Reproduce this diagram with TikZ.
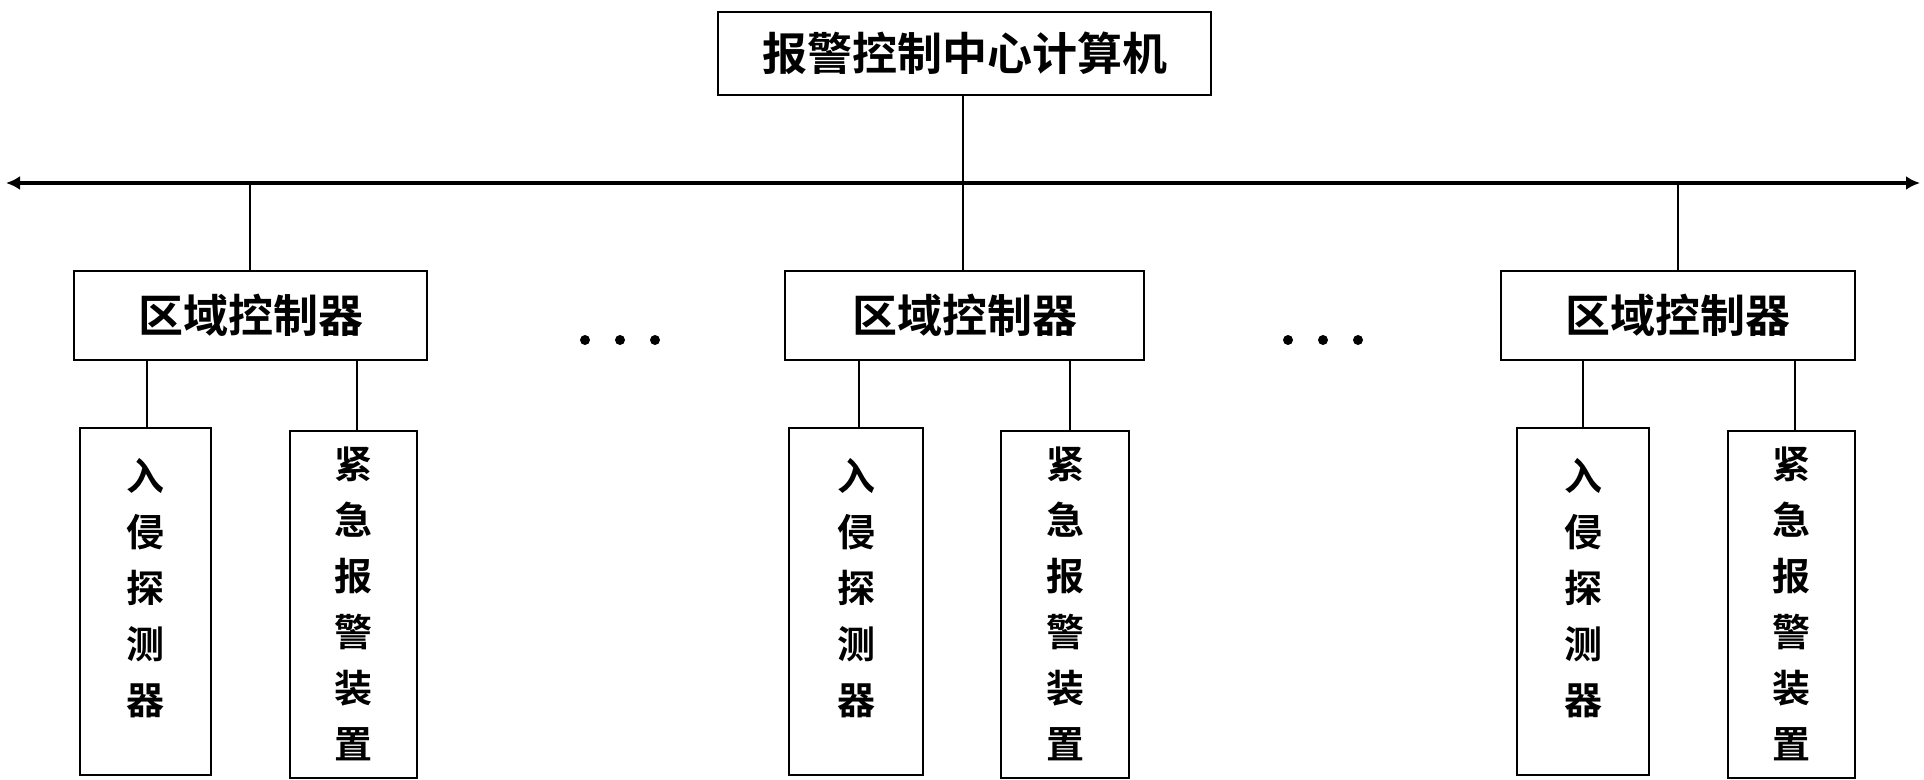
\documentclass[tikz,border=0pt]{standalone}
\usepackage{fontspec}
\newfontfamily\cjk{Noto Sans CJK SC Bold}
\usetikzlibrary{arrows.meta}
\begin{document}
\begin{tikzpicture}[x=1pt,y=-1pt,
  box/.style={draw,line width=2.2pt},
  ln/.style={line width=1.8pt},
  txt/.style={font=\cjk\fontsize{45}{48}\selectfont},
  vt/.style={font=\cjk\fontsize{38}{56}\selectfont,align=center,inner sep=0pt}]
\useasboundingbox (0,0) rectangle (1924,779);
\draw[box] (718,12) rectangle (1211,95);
\node[txt] (top) at (964.5,53) {报警控制中心计算机};
\coordinate (bl) at (6,183); \coordinate (br) at (1920,183);
\draw[line width=3.6pt,{Latex[length=14pt,width=14pt]}-{Latex[length=14pt,width=14pt]}] (bl) -- (br);
\draw[ln] (963,95) -- (963,183);
\foreach \a/\b/\c/\i/\j/\p/\q/\r/\s [count=\k] in
  {74/427/250/147/357/80/211/290/417,
   785/1144/963/859/1070/789/923/1001/1129,
   1501/1855/1678/1583/1795/1517/1649/1728/1855}{
  \draw[ln] (\c,183) -- (\c,271);
  \draw[box] (\a,271) rectangle (\b,360);
  \node[txt] (r\k) at ({(\a+\b)/2},315) {区域控制器};
  \draw[ln] (\i,360) -- (\i,428);
  \draw[ln] (\j,360) -- (\j,431);
  \draw[box] (\p,428) rectangle (\q,775);
  \draw[box] (\r,431) rectangle (\s,778);
  \node[vt] (d\k) at ({(\p+\q)/2},588) {入\\侵\\探\\测\\器};
  \node[vt] (e\k) at ({(\r+\s)/2},604) {紧\\急\\报\\警\\装\\置};
}
\foreach \x in {585,620,655,1288,1323,1358}{\fill (\x,340) circle (5pt);}
\end{tikzpicture}
\end{document}
